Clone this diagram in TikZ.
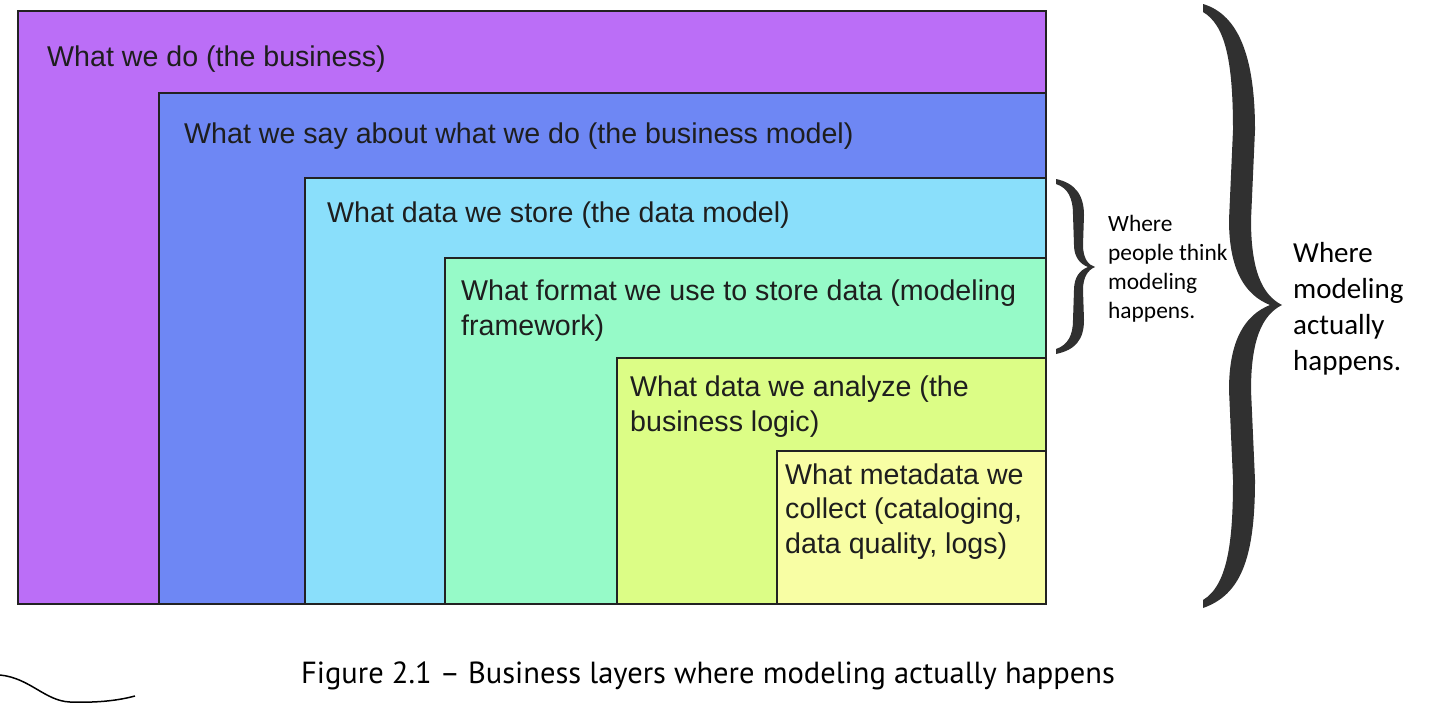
\documentclass[tikz,border=0pt]{standalone}
\usepackage{fontspec}
\setmainfont{Liberation Sans}
\newfontfamily\calib{Carlito}
\newfontfamily\capfont{PT Sans}
\definecolor{cA}{HTML}{BB6EF7}
\definecolor{cB}{HTML}{6E87F4}
\definecolor{cC}{HTML}{8ADFFB}
\definecolor{cD}{HTML}{96FAC8}
\definecolor{cE}{HTML}{DCFD86}
\definecolor{cF}{HTML}{F8FEA4}
\definecolor{edge}{HTML}{222222}
\definecolor{brace}{HTML}{303030}
\definecolor{txt}{HTML}{1E1E1E}
\begin{document}
\begin{tikzpicture}[x=1pt,y=-1pt,
  layer/.style={draw=edge,line width=1.8pt},
  lbl/.style={font=\fontsize{28.6}{34.5}\selectfont,text=txt,inner sep=0pt,anchor=base west,align=left},
  side/.style={font=\calib\fontsize{23.4}{28.7}\selectfont,text=black,inner sep=0pt,anchor=base west,align=left},
  sidebig/.style={font=\calib\fontsize{29}{36}\selectfont,text=black,inner sep=0pt,anchor=base west,align=left}]
\useasboundingbox (0,0) rectangle (1446,704);
\draw[layer,fill=cA] (18,11) rectangle (1046,604);
\draw[layer,fill=cB] (159,93) rectangle (1046,604);
\draw[layer,fill=cC] (305,178) rectangle (1046,604);
\draw[layer,fill=cD] (445,258) rectangle (1046,604);
\draw[layer,fill=cE] (617,358) rectangle (1046,604);
\draw[layer,fill=cF] (777,451) rectangle (1046,604);
\node[lbl] (t1) at (47,66) {What we do (the business)};
\node[lbl] (t2) at (184,143) {What we say about what we do (the business model)};
\node[lbl] (t3) at (327,222) {What data we store (the data model)};
\node[lbl] (t4) at (461,335) {What format we use to store data (modeling\\framework)};
\node[lbl] (t5) at (630,431) {What data we analyze (the\\business logic)};
\node[lbl] (t6) at (785,553) {What metadata we\\collect (cataloging,\\data quality, logs)};
% small brace
\fill[brace] (1056,179) .. controls (1075,183) and (1084,195) .. (1084,215) -- (1083,245)
  .. controls (1083,258) and (1088,265) .. (1095,267) .. controls (1088,270) and (1083,277) .. (1083,290)
  -- (1084,320) .. controls (1084,340) and (1075,350) .. (1056,354)
  -- (1056,349) .. controls (1068,345) and (1073,335) .. (1073,320) -- (1074,290)
  .. controls (1074,277) and (1080,270) .. (1088,267) .. controls (1080,264) and (1074,257) .. (1074,245)
  -- (1073,215) .. controls (1073,198) and (1068,188) .. (1056,184) -- cycle;
% big brace
\fill[brace] (1203,4) .. controls (1240,15) and (1255,60) .. (1255,130) -- (1251,220)
  .. controls (1251,270) and (1262,295) .. (1282,305) .. controls (1262,315) and (1251,340) .. (1251,390)
  -- (1255,480) .. controls (1255,560) and (1240,595) .. (1203,608)
  -- (1203,600) .. controls (1228,585) and (1233,540) .. (1233,480) -- (1229,390)
  .. controls (1229,340) and (1245,315) .. (1270,305) .. controls (1245,295) and (1229,270) .. (1229,220)
  -- (1233,130) .. controls (1233,60) and (1225,25) .. (1203,12) -- cycle;
\node[side] (s1) at (1108,318) {Where\\people think\\modeling\\happens.};
\node[sidebig] (s2) at (1293,370) {Where\\modeling\\actually\\happens.};
\node[font=\capfont\fontsize{30.5}{36}\selectfont,inner sep=0pt,anchor=base] (cap) at (708,683) {Figure 2.1 – Business layers where modeling actually happens};
\draw[line width=1.5pt] (0,675) .. controls (30,678) and (45,701) .. (70,702) .. controls (100,703) and (120,700) .. (135,696);
\end{tikzpicture}
\end{document}
